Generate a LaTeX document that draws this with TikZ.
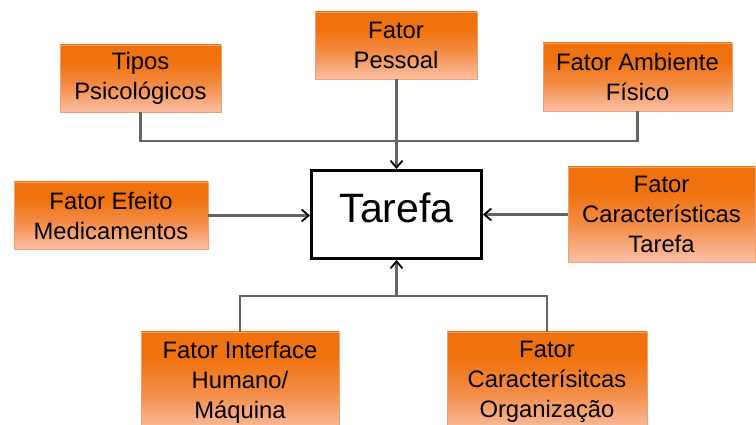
\documentclass[tikz,border=0pt]{standalone}
\usepackage{fontspec}
\setmainfont{Liberation Sans}
\usetikzlibrary{arrows.meta}

\definecolor{boxtop}{RGB}{240,114,14}
\definecolor{boxmid}{RGB}{243,140,70}
\definecolor{boxbot}{RGB}{250,192,165}
\definecolor{boxedge}{RGB}{244,160,110}
\definecolor{linkgray}{RGB}{100,100,100}

% orange factor boxes fade to peach towards the bottom
\pgfdeclareverticalshading{factorfill}{100bp}{%
  color(0bp)=(boxbot); color(25bp)=(boxbot); color(45bp)=(boxmid);
  color(62bp)=(boxtop); color(100bp)=(boxtop)}

\tikzset{
  factor/.style={shading=factorfill, draw=boxedge, line width=0.8pt,
    align=center, inner sep=0pt, text=black,
    font=\fontsize{23.8}{30}\selectfont},
  taskbox/.style={draw=black, line width=3pt, fill=white, inner sep=0pt,
    minimum width=170pt, minimum height=88pt,
    font=\fontsize{41}{46}\selectfont},
  link/.style={draw=linkgray, line width=2.2pt},
  feed/.style={link, -{Straight Barb[length=7pt,width=12pt,line width=1.8pt,color=black]}}
}

\begin{document}
\begin{tikzpicture}[x=1pt,y=1pt]
  \useasboundingbox (0,0) rectangle (756,425);
  \clip (0,0) rectangle (756,425);

  % central task
  \node[taskbox] (tarefa) at (396.5,210.5) {\raisebox{14pt}{Tarefa}};

  % influencing factors
  \node[factor, minimum width=161pt, minimum height=67pt] (tipos) at (140.5,346.5) {Tipos\\Psicológicos};
  \node[factor, minimum width=162pt, minimum height=67pt] (pessoal) at (396,379.5) {Fator\\Pessoal};
  \node[factor, minimum width=189pt, minimum height=68pt] (ambiente) at (637.5,348) {Fator Ambiente\\Físico};
  \node[factor, minimum width=194pt, minimum height=67pt] (efeito) at (111,209.5) {Fator Efeito\\Medicamentos};
  \node[factor, minimum width=187pt, minimum height=95pt] (tarefac) at (661.5,210.5) {Fator\\Características\\Tarefa};
  \node[factor, minimum width=198pt, minimum height=100pt] (interface) at (240,43) {Fator Interface\\Humano/\\Máquina};
  \node[factor, minimum width=200pt, minimum height=100pt] (organizacao) at (547,43) {Fator\\Caracterísitcas\\Organização};

  % junction points above and below the task
  \coordinate (jtop) at (396.5,284);
  \coordinate (jbot) at (396.5,129);

  % upper group
  \draw[link] (tipos.south) |- (jtop);
  \draw[link] (ambiente.south) |- (jtop);
  \draw[feed] (pessoal.south -| tarefa.north) -- (tarefa.north);

  % side inputs
  \draw[feed] (efeito.east) -- (efeito.east -| tarefa.west);
  \draw[feed] (tarefac.west) -- (tarefac.west -| tarefa.east);

  % lower group
  \draw[link] (interface.north) |- (jbot);
  \draw[link] (organizacao.north) |- (jbot);
  \draw[feed] (jbot) -- (tarefa.south);
\end{tikzpicture}
\end{document}
